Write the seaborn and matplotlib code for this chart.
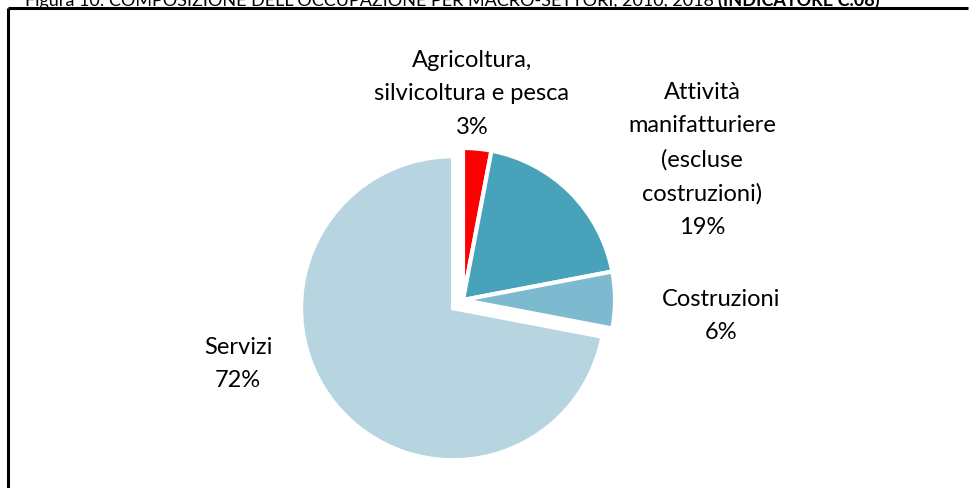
import matplotlib
matplotlib.use("Agg")
import matplotlib.pyplot as plt
import seaborn as sns

sns.set_theme(style="white")
plt.rcParams['font.family'] = ['Lato', 'DejaVu Sans']

categories = ["Agricoltura,\nsilvicoltura e pesca", "Attività\nmanifatturiere\n(escluse\ncostruzioni)",
              "Costruzioni", "Servizi"]
values = [3, 19, 6, 72]
colors = ["#FF0000", "#48A2BA", "#7DBAD0", "#B6D5E0"]
explode_frac = [0, 0, 0, 0.085]

W, H = 969, 488
fig = plt.figure(figsize=(W / 100, H / 100), dpi=100)
ax = fig.add_axes([0, 0, 1, 1])

cx, cy, r = 463, H - 300, 152
wedges, _ = ax.pie(values, colors=colors, explode=[e * r for e in explode_frac], startangle=90,
                   counterclock=False, radius=r, center=(cx, cy), frame=True,
                   wedgeprops=dict(edgecolor="white", linewidth=3))
ax.set_xlim(0, W)
ax.set_ylim(0, H)
ax.set_aspect("equal")
ax.axis("off")

label_pos = [(472, H - 94), (702, H - 160), (721, H - 316), (238, H - 364)]
for cat, v, (x, y) in zip(categories, values, label_pos):
    ax.text(x, y, f"{cat}\n{v}%", ha="center", va="center", fontsize=17,
            linespacing=1.72, color="#000000")

# frame
ax.plot([8, 968], [H - 8, H - 8], color="black", lw=2.2, solid_capstyle="butt")
ax.plot([8, 8], [H - 8, 0], color="black", lw=2.2, solid_capstyle="butt")

# clipped title
t1 = ax.text(25, H - 6, "Figura 10: COMPOSIZIONE DELL'OCCUPAZIONE PER MACRO-SETTORI, 2010, 2018 ",
             ha="left", va="baseline", fontsize=13, color="black")
fig.canvas.draw()
bb = t1.get_window_extent()
ax.text(bb.x1, H - 6, "(INDICATORE C.08)", ha="left", va="baseline", fontsize=13,
        fontweight="bold", color="black")

fig.savefig("out.png", dpi=100, facecolor="white")
